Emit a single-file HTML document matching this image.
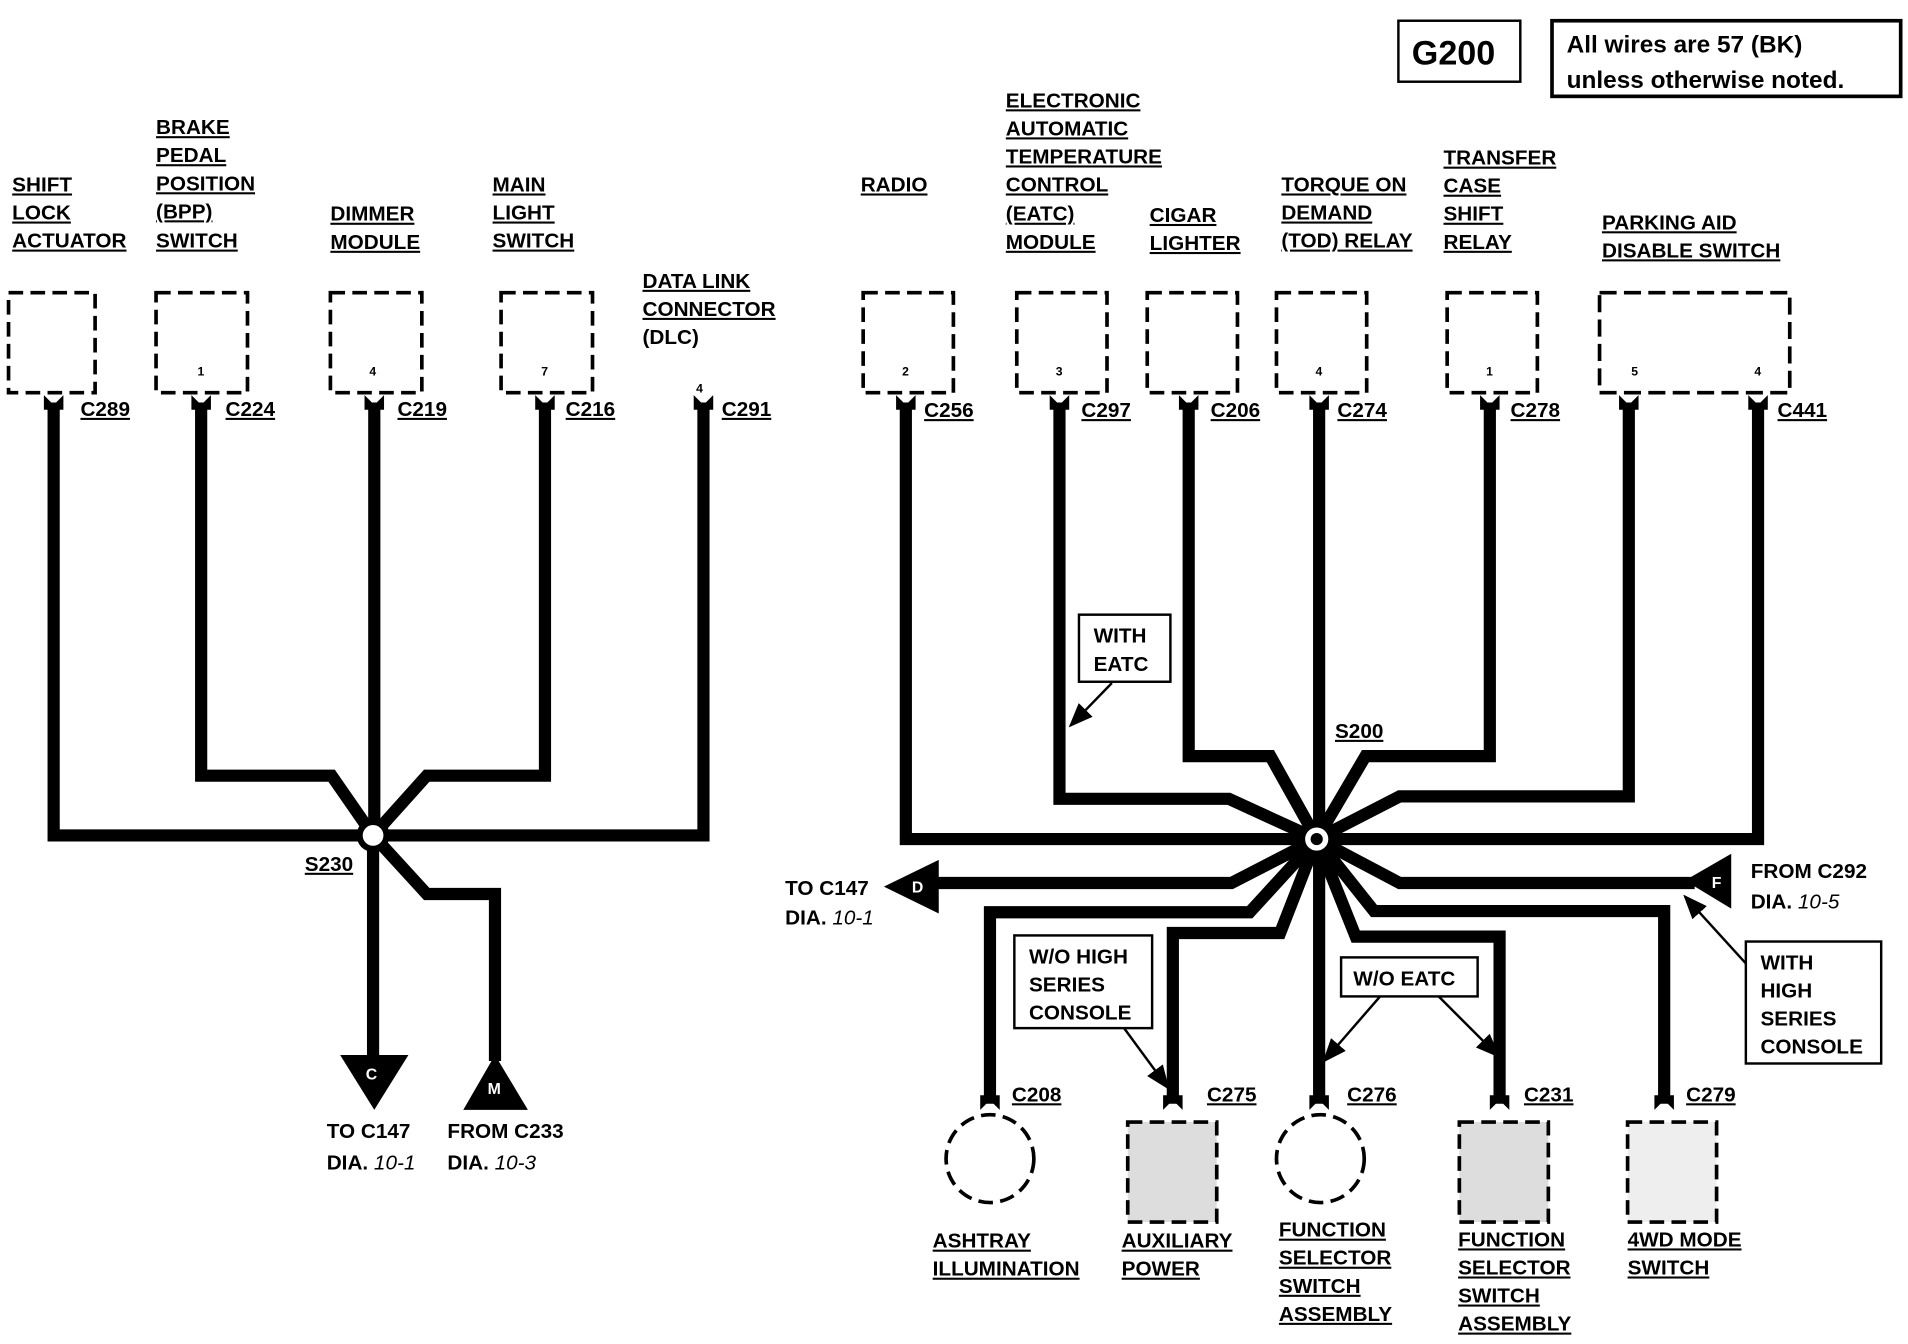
<!DOCTYPE html>
<html><head><meta charset="utf-8"><style>
html,body{margin:0;padding:0;background:#fff;}
svg{display:block}
text{font-family:"Liberation Sans",sans-serif;font-weight:bold;font-size:17px;fill:#000}
.u{text-decoration:underline}
.w{fill:none;stroke:#000;stroke-width:10;stroke-linejoin:miter}
.b{fill:#fff;stroke:#000;stroke-width:3;stroke-dasharray:12 6}
.p{font-size:10px}
.t{stroke:#000;stroke-width:2;fill:none}
</style></head><body>
<svg width="1908" height="1344" viewBox="0 0 1565 1102" preserveAspectRatio="none">
<defs><marker id="ah" markerWidth="10" markerHeight="10" refX="9" refY="5" orient="auto"><path d="M0,1 L10,5 L0,9 Z" fill="#000"/></marker></defs>
<!-- header -->
<rect x="1147" y="17" width="100" height="50" fill="none" stroke="#000" stroke-width="2"/>
<text x="1158" y="53" style="font-size:28px">G200</text>
<rect x="1273" y="17" width="286" height="62" fill="none" stroke="#000" stroke-width="3"/>
<text x="1285" y="43" style="font-size:20px">All wires are 57 (BK)</text>
<text x="1285" y="72" style="font-size:20px">unless otherwise noted.</text>

<!-- left wires -->
<path class="w" d="M44,330 V685 H306"/>
<path class="w" d="M165,330 V636 H272 L306,685"/>
<path class="w" d="M307,330 V685"/>
<path class="w" d="M447,330 V636 H350 L306,685"/>
<path class="w" d="M577,330 V685 H306"/>
<path class="w" d="M306,685 V870"/>
<path class="w" d="M306,685 L350,733 H406 V870"/>
<circle cx="306" cy="685" r="11" fill="#fff" stroke="#000" stroke-width="5"/>
<path d="M279,865 H335 L307,910 Z"/><text x="300" y="885" style="font-size:13px;fill:#fff">C</text>
<path d="M380,910 H433 L406,865 Z"/><text x="400" y="897" style="font-size:13px;fill:#fff">M</text>

<!-- left boxes -->
<rect class="b" x="7" y="240" width="71" height="82"/>
<rect class="b" x="128" y="240" width="75" height="82"/><text class="p" x="162" y="308">1</text>
<rect class="b" x="271" y="240" width="75" height="82"/><text class="p" x="303" y="308">4</text>
<rect class="b" x="411" y="240" width="75" height="82"/><text class="p" x="444" y="308">7</text>
<text class="p" x="571" y="322">4</text>
<g fill="#000">
<path d="M36,324 L44,332 L52,324 L52,336 L36,336Z"/><path d="M157,324 L165,332 L173,324 L173,336 L157,336Z"/>
<path d="M299,324 L307,332 L315,324 L315,336 L299,336Z"/><path d="M439,324 L447,332 L455,324 L455,336 L439,336Z"/>
<path d="M569,324 L577,332 L585,324 L585,336 L569,336Z"/>
</g>
<text class="u" x="66" y="341">C289</text><text class="u" x="185" y="341">C224</text><text class="u" x="326" y="341">C219</text><text class="u" x="464" y="341">C216</text><text class="u" x="592" y="341">C291</text>
<text class="u" x="10" y="157">SHIFT</text><text class="u" x="10" y="180">LOCK</text><text class="u" x="10" y="203">ACTUATOR</text>
<text class="u" x="128" y="110">BRAKE</text><text class="u" x="128" y="133">PEDAL</text><text class="u" x="128" y="156">POSITION</text><text class="u" x="128" y="179">(BPP)</text><text class="u" x="128" y="203">SWITCH</text>
<text class="u" x="271" y="181">DIMMER</text><text class="u" x="271" y="204">MODULE</text>
<text class="u" x="404" y="157">MAIN</text><text class="u" x="404" y="180">LIGHT</text><text class="u" x="404" y="203">SWITCH</text>
<text class="u" x="527" y="236">DATA LINK</text><text class="u" x="527" y="259">CONNECTOR</text><text x="527" y="282">(DLC)</text>
<text class="u" x="250" y="714">S230</text>
<text x="268" y="933">TO C147</text><text x="268" y="959">DIA. <tspan style="font-style:italic;font-weight:normal">10-1</tspan></text>
<text x="367" y="933">FROM C233</text><text x="367" y="959">DIA. <tspan style="font-style:italic;font-weight:normal">10-3</tspan></text>

<!-- right wires -->
<path class="w" d="M743,330 V688 H1080"/>
<path class="w" d="M869,330 V655 H1008 L1080,688"/>
<path class="w" d="M975,330 V620 H1042 L1080,688"/>
<path class="w" d="M1082,330 V688"/>
<path class="w" d="M1222,330 V620 H1120 L1080,688"/>
<path class="w" d="M1336,330 V653 H1148 L1080,688"/>
<path class="w" d="M1442,330 V688 H1080"/>
<path class="w" d="M1080,688 L1148,724 H1390"/>
<path class="w" d="M1080,688 L1010,724 H765"/>
<path class="w" d="M1080,688 L1127,747 H1365 V905"/>
<path class="w" d="M1080,688 L1112,768 H1230 V905"/>
<path class="w" d="M1082,688 V905"/>
<path class="w" d="M1080,688 L1050,765 H962 V905"/>
<path class="w" d="M1080,688 L1025,748 H812 V905"/>
<circle cx="1080" cy="688" r="12" fill="#fff" stroke="#000" stroke-width="5"/>
<circle cx="1080" cy="688" r="5"/>
<path d="M725,727 L770,705 V749 Z"/><text x="748" y="732" style="font-size:13px;fill:#fff">D</text>
<path d="M1382,722 L1420,700 V745 Z"/><text x="1404" y="728" style="font-size:13px;fill:#fff">F</text>

<!-- right boxes -->
<rect class="b" x="708" y="240" width="74" height="82"/><text class="p" x="740" y="308">2</text>
<rect class="b" x="834" y="240" width="74" height="82"/><text class="p" x="866" y="308">3</text>
<rect class="b" x="941" y="240" width="74" height="82"/>
<rect class="b" x="1047" y="240" width="74" height="82"/><text class="p" x="1079" y="308">4</text>
<rect class="b" x="1187" y="240" width="74" height="82"/><text class="p" x="1219" y="308">1</text>
<path class="b" d="M1312,240 H1468 V322 H1312 Z" style="stroke-dasharray:14 6"/>
<text class="p" x="1338" y="308">5</text><text class="p" x="1439" y="308">4</text>
<g fill="#000">
<path d="M735,324 L743,332 L751,324 L751,336 L735,336Z"/><path d="M861,324 L869,332 L877,324 L877,336 L861,336Z"/>
<path d="M967,324 L975,332 L983,324 L983,336 L967,336Z"/><path d="M1074,324 L1082,332 L1090,324 L1090,336 L1074,336Z"/>
<path d="M1214,324 L1222,332 L1230,324 L1230,336 L1214,336Z"/><path d="M1328,324 L1336,332 L1344,324 L1344,336 L1328,336Z"/>
<path d="M1434,324 L1442,332 L1450,324 L1450,336 L1434,336Z"/>
<path d="M804,910 L812,902 L820,910 L820,898 L804,898Z"/><path d="M954,910 L962,902 L970,910 L970,898 L954,898Z"/>
<path d="M1074,910 L1082,902 L1090,910 L1090,898 L1074,898Z"/><path d="M1222,910 L1230,902 L1238,910 L1238,898 L1222,898Z"/>
<path d="M1357,910 L1365,902 L1373,910 L1373,898 L1357,898Z"/>
</g>
<text class="u" x="758" y="342">C256</text><text class="u" x="887" y="342">C297</text><text class="u" x="993" y="342">C206</text><text class="u" x="1097" y="342">C274</text><text class="u" x="1239" y="342">C278</text><text class="u" x="1458" y="342">C441</text>
<text class="u" x="706" y="157">RADIO</text>
<text class="u" x="825" y="88">ELECTRONIC</text><text class="u" x="825" y="111">AUTOMATIC</text><text class="u" x="825" y="134">TEMPERATURE</text><text class="u" x="825" y="157">CONTROL</text><text class="u" x="825" y="181">(EATC)</text><text class="u" x="825" y="204">MODULE</text>
<text class="u" x="943" y="182">CIGAR</text><text class="u" x="943" y="205">LIGHTER</text>
<text class="u" x="1051" y="157">TORQUE ON</text><text class="u" x="1051" y="180">DEMAND</text><text class="u" x="1051" y="203">(TOD) RELAY</text>
<text class="u" x="1184" y="135">TRANSFER</text><text class="u" x="1184" y="158">CASE</text><text class="u" x="1184" y="181">SHIFT</text><text class="u" x="1184" y="204">RELAY</text>
<text class="u" x="1314" y="188">PARKING AID</text><text class="u" x="1314" y="211">DISABLE SWITCH</text>
<text class="u" x="1095" y="605">S200</text>
<text x="644" y="734">TO C147</text><text x="644" y="758">DIA. <tspan style="font-style:italic;font-weight:normal">10-1</tspan></text>
<text x="1436" y="720">FROM C292</text><text x="1436" y="745">DIA. <tspan style="font-style:italic;font-weight:normal">10-5</tspan></text>

<!-- callouts -->
<rect x="885" y="504" width="75" height="55" fill="#fff" stroke="#000" stroke-width="2"/>
<text x="897" y="527">WITH</text><text x="897" y="550">EATC</text>
<line class="t" x1="912" y1="560" x2="878" y2="595" marker-end="url(#ah)"/>
<rect x="832" y="767" width="113" height="76" fill="#fff" stroke="#000" stroke-width="2"/>
<text x="844" y="790">W/O HIGH</text><text x="844" y="813">SERIES</text><text x="844" y="836">CONSOLE</text>
<line class="t" x1="922" y1="843" x2="958" y2="892" marker-end="url(#ah)"/>
<rect x="1100" y="785" width="112" height="32" fill="#fff" stroke="#000" stroke-width="2"/>
<text x="1110" y="808">W/O EATC</text>
<line class="t" x1="1132" y1="817" x2="1086" y2="870" marker-end="url(#ah)"/>
<line class="t" x1="1180" y1="817" x2="1229" y2="866" marker-end="url(#ah)"/>
<rect x="1432" y="772" width="111" height="100" fill="#fff" stroke="#000" stroke-width="2"/>
<text x="1444" y="795">WITH</text><text x="1444" y="818">HIGH</text><text x="1444" y="841">SERIES</text><text x="1444" y="864">CONSOLE</text>
<line class="t" x1="1432" y1="790" x2="1382" y2="735" marker-end="url(#ah)"/>

<!-- bottom components -->
<circle cx="812" cy="950" r="36" fill="#fff" stroke="#000" stroke-width="3" stroke-dasharray="12 6"/>
<rect class="b" x="925" y="920" width="73" height="82" style="fill:#ddd"/>
<circle cx="1083" cy="950" r="36" fill="#fff" stroke="#000" stroke-width="3" stroke-dasharray="12 6"/>
<rect class="b" x="1197" y="920" width="73" height="82" style="fill:#ddd"/>
<rect class="b" x="1335" y="920" width="73" height="82" style="fill:#eee"/>
<text class="u" x="830" y="903">C208</text><text class="u" x="990" y="903">C275</text><text class="u" x="1105" y="903">C276</text><text class="u" x="1250" y="903">C231</text><text class="u" x="1383" y="903">C279</text>
<text class="u" x="765" y="1023">ASHTRAY</text><text class="u" x="765" y="1046">ILLUMINATION</text>
<text class="u" x="920" y="1023">AUXILIARY</text><text class="u" x="920" y="1046">POWER</text>
<text class="u" x="1049" y="1014">FUNCTION</text><text class="u" x="1049" y="1037">SELECTOR</text><text class="u" x="1049" y="1060">SWITCH</text><text class="u" x="1049" y="1083">ASSEMBLY</text>
<text class="u" x="1196" y="1022">FUNCTION</text><text class="u" x="1196" y="1045">SELECTOR</text><text class="u" x="1196" y="1068">SWITCH</text><text class="u" x="1196" y="1091">ASSEMBLY</text>
<text class="u" x="1335" y="1022">4WD MODE</text><text class="u" x="1335" y="1045">SWITCH</text>
</svg>
</body></html>
